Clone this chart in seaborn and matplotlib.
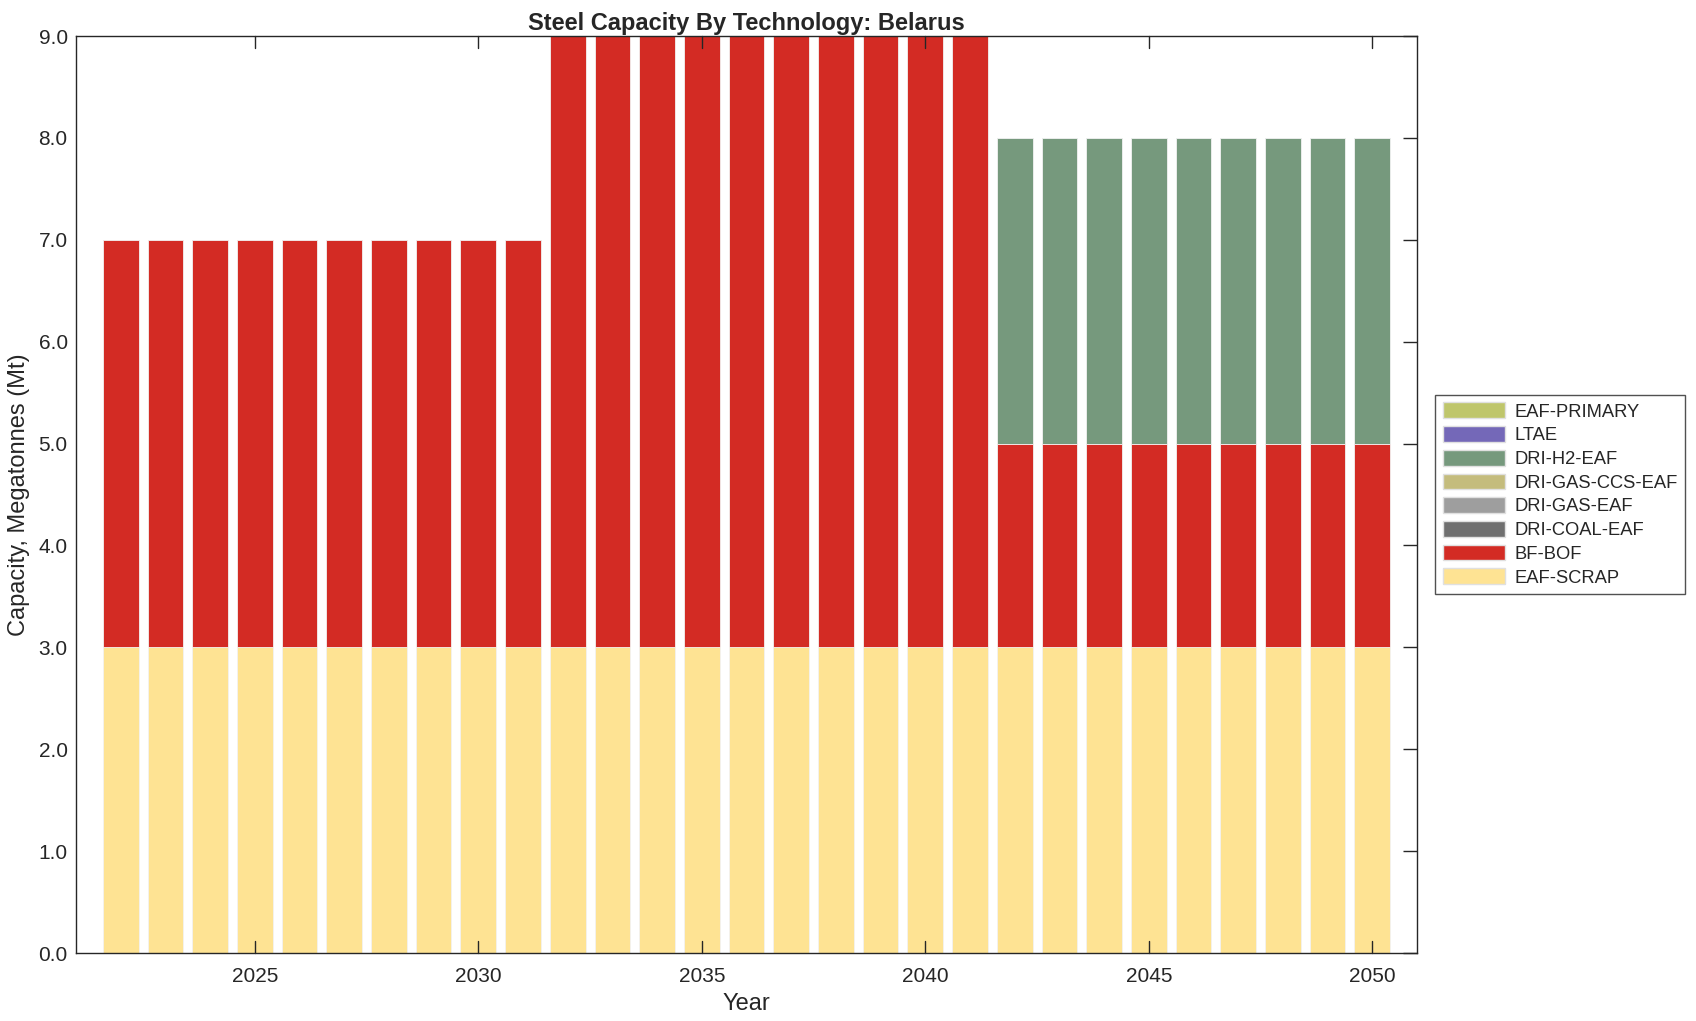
import numpy as np
import pandas as pd
import matplotlib
matplotlib.use('Agg')
import matplotlib.pyplot as plt
import matplotlib.patches as mpatches
import seaborn as sns

# data
years = list(range(2022, 2051))
eaf_scrap = [3.0] * 29
bf_bof = [4.0] * 10 + [6.0] * 10 + [2.0] * 9
dri_coal_eaf = [0.0] * 29
dri_gas_eaf = [0.0] * 29
dri_gas_ccs_eaf = [0.0] * 29
dri_h2_eaf = [0.0] * 20 + [3.0] * 9
ltae = [0.0] * 29
eaf_primary = [0.0] * 29

# stack order, bottom to top
techs = ['EAF-SCRAP', 'BF-BOF', 'DRI-COAL-EAF', 'DRI-GAS-EAF',
         'DRI-GAS-CCS-EAF', 'DRI-H2-EAF', 'LTAE', 'EAF-PRIMARY']
series = [eaf_scrap, bf_bof, dri_coal_eaf, dri_gas_eaf,
          dri_gas_ccs_eaf, dri_h2_eaf, ltae, eaf_primary]
colors = ['#FEE393', '#D32B24', '#6F6F6F', '#9E9E9E',
          '#C4BC7D', '#76997D', '#7468B8', '#BFC66B']

sns.set_theme(style='white')
plt.rcParams['font.family'] = ['Liberation Sans', 'DejaVu Sans']

df = pd.DataFrame(dict(zip(techs, series)), index=years)
cum = df.cumsum(axis=1)

fig = plt.figure(figsize=(16.96, 10.21), dpi=100)
ax = fig.add_axes([76 / 1696, 1 - 953 / 1021, (1417 - 76) / 1696, (953 - 36) / 1021])

# draw cumulative totals from top down so lower layers cover upper ones
for tech, col in reversed(list(zip(techs, colors))):
    d = pd.DataFrame({'year': years, 'val': cum[tech].values})
    sns.barplot(data=d, x='year', y='val', native_scale=True, width=0.8,
                color=col, saturation=1, edgecolor='#f4f4f4', linewidth=0.6, ax=ax)

ax.set_xlim(2021, 2051)
ax.set_ylim(0, 9)
ax.set_yticks(np.arange(0, 9.1, 1.0))
ax.set_yticklabels([f'{v:.1f}' for v in np.arange(0, 9.1, 1.0)])
ax.set_xticks(range(2025, 2051, 5))
ax.tick_params(direction='in', length=10, width=1, top=True, right=True,
               labelsize=15, colors='#262626', pad=6)
ax.tick_params(axis='x', length=0, pad=10)
for x in range(2025, 2051, 5):
    ax.plot([x, x], [0, 0.12], color='#262626', lw=1, clip_on=False)
    ax.plot([x, x], [9, 9 - 0.12], color='#262626', lw=1, clip_on=False)
for s in ax.spines.values():
    s.set_color('#262626')
    s.set_linewidth(1)

ax.set_xlabel('Year', fontsize=17, color='#262626', labelpad=5)
ax.set_ylabel('Capacity, Megatonnes (Mt)', fontsize=17, color='#262626', labelpad=6)
ax.set_title('Steel Capacity By Technology: Belarus', fontsize=17, fontweight='bold', pad=4)

handles = [mpatches.Patch(facecolor=c, edgecolor='#e0e0e0', label=t)
           for t, c in zip(techs, colors)][::-1]
leg = ax.legend(handles=handles, loc='center left', bbox_to_anchor=(1.0137, 0.5),
                borderaxespad=0, fontsize=13.2, frameon=True, fancybox=False,
                edgecolor='#262626', handlelength=3.4, handleheight=0.95,
                labelspacing=0.3, handletextpad=0.5, borderpad=0.4)
leg.get_frame().set_linewidth(1)

fig.savefig('out.png', dpi=100)
